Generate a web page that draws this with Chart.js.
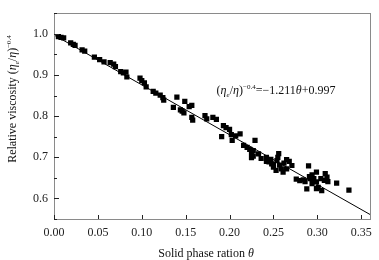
<!DOCTYPE html>
<html>
<head>
<meta charset="utf-8">
<script src="https://cdn.jsdelivr.net/npm/chart.js@4.4.1/dist/chart.umd.min.js"></script>
<style>
  html, body { margin: 0; padding: 0; background: #fff; }
  #chart { display: block; }
</style>
</head>
<body>
<canvas id="chart" width="379" height="260"></canvas>
<script>
// datos (theta, viscosidad relativa)
const thetaVals = [
  0.005, 0.008, 0.011, 0.019, 0.022, 0.024, 0.032, 0.035, 0.046, 0.052,
  0.057, 0.064, 0.068, 0.070, 0.076, 0.079, 0.082, 0.083, 0.098, 0.100,
  0.103, 0.105, 0.113, 0.116, 0.121, 0.124, 0.125, 0.136, 0.140, 0.144,
  0.146, 0.148, 0.149, 0.154, 0.157, 0.158, 0.157, 0.172, 0.174, 0.181,
  0.185, 0.193, 0.196, 0.200, 0.191, 0.202, 0.207, 0.212, 0.203, 0.216,
  0.220, 0.223, 0.225, 0.227, 0.225, 0.229, 0.233, 0.236, 0.242, 0.245,
  0.248, 0.250, 0.253, 0.254, 0.255, 0.256, 0.257, 0.259, 0.261, 0.265,
  0.265, 0.271, 0.276, 0.280, 0.284, 0.288, 0.290, 0.291, 0.294, 0.296,
  0.299, 0.294, 0.299, 0.301, 0.305, 0.304, 0.309, 0.308, 0.312, 0.322,
  0.336, 0.311, 0.299, 0.292, 0.286, 0.250, 0.247, 0.242, 0.262, 0.268,
  0.227
];
const viscVals = [
  0.993, 0.991, 0.990, 0.978, 0.974, 0.972, 0.961, 0.958, 0.943, 0.937,
  0.932, 0.930, 0.926, 0.920, 0.908, 0.905, 0.907, 0.895, 0.892, 0.886,
  0.881, 0.871, 0.860, 0.856, 0.851, 0.845, 0.839, 0.821, 0.846, 0.815,
  0.812, 0.808, 0.836, 0.823, 0.826, 0.790, 0.797, 0.801, 0.793, 0.797,
  0.792, 0.777, 0.772, 0.768, 0.750, 0.755, 0.752, 0.757, 0.741, 0.729,
  0.724, 0.719, 0.712, 0.703, 0.699, 0.741, 0.708, 0.697, 0.700, 0.689,
  0.684, 0.676, 0.668, 0.692, 0.700, 0.709, 0.681, 0.672, 0.664, 0.694,
  0.672, 0.680, 0.647, 0.643, 0.645, 0.623, 0.679, 0.653, 0.657, 0.648,
  0.664, 0.636, 0.640, 0.627, 0.619, 0.648, 0.660, 0.644, 0.641, 0.637,
  0.620, 0.652, 0.624, 0.648, 0.641, 0.682, 0.695, 0.690, 0.686, 0.690,
  0.716
];

// recta de ajuste (extremos)
const fitX = [0, 0.36];
const fitY = [0.997, 0.561];

const xTicks = [0, 0.05, 0.10, 0.15, 0.20, 0.25, 0.30, 0.35];
const yTicks = [0.6, 0.7, 0.8, 0.9, 1.0];
const yMinorTicks = [0.55, 0.65, 0.75, 0.85, 0.95, 1.05];

const SERIF = '"Liberation Serif", "Times New Roman", serif';

// dibuja texto con cursiva / subindice / superindice
function drawRich(ctx, parts, x, y, size) {
  const fontFor = p => {
    const s = (p.sub || p.sup) ? Math.round(size * 0.62) : size;
    return (p.it ? 'italic ' : '') + s + 'px ' + SERIF;
  };
  let total = 0;
  parts.forEach(p => { ctx.font = fontFor(p); total += ctx.measureText(p.t).width; });
  let cx = x - total / 2;
  ctx.textAlign = 'left';
  ctx.textBaseline = 'alphabetic';
  parts.forEach(p => {
    ctx.font = fontFor(p);
    let dy = 0;
    if (p.sub) dy = size * 0.25;
    if (p.sup) dy = -size * 0.42;
    ctx.fillText(p.t, cx, y + dy);
    cx += ctx.measureText(p.t).width;
  });
}

const etaPart = [
  { t: '(' }, { t: 'η', it: true }, { t: 'e', it: true, sub: true },
  { t: '/' }, { t: 'η', it: true }, { t: ')' }, { t: '−0.4', sup: true }
];

const decorPlugin = {
  id: 'decor',
  afterDraw(chart) {
    const ctx = chart.ctx;
    const a = chart.chartArea;
    const xs = chart.scales.x, ys = chart.scales.y;
    ctx.save();
    // marco
    ctx.strokeStyle = '#8a8a8a';
    ctx.lineWidth = 1;
    ctx.strokeRect(Math.round(a.left) + 0.5, Math.round(a.top) + 0.5,
      Math.round(a.right - a.left), Math.round(a.bottom - a.top));
    // marcas hacia dentro
    ctx.strokeStyle = '#222';
    ctx.beginPath();
    xTicks.forEach(v => {
      const px = Math.round(xs.getPixelForValue(v)) + 0.5;
      ctx.moveTo(px, a.bottom);
      ctx.lineTo(px, a.bottom - 4);
    });
    yTicks.forEach(v => {
      const py = Math.round(ys.getPixelForValue(v)) + 0.5;
      ctx.moveTo(a.left, py);
      ctx.lineTo(a.left + 5, py);
    });
    yMinorTicks.forEach(v => {
      const py = Math.round(ys.getPixelForValue(v)) + 0.5;
      ctx.moveTo(a.left, py);
      ctx.lineTo(a.left + 3, py);
    });
    ctx.stroke();

    ctx.fillStyle = '#111';
    // titulo eje x
    drawRich(ctx, [{ t: 'Solid phase ration ' }, { t: 'θ', it: true }], 206, 257, 12);
    // titulo eje y
    ctx.save();
    ctx.translate(16, 99);
    ctx.rotate(-Math.PI / 2);
    drawRich(ctx, [{ t: 'Relative viscosity ' }].concat(etaPart), 0, 0, 12);
    ctx.restore();
    // ecuacion
    drawRich(ctx, etaPart.concat([{ t: '=−1.211' }, { t: 'θ', it: true }, { t: '+0.997' }]), 276, 94, 12);
    ctx.restore();
  }
};

const puntos = thetaVals.map((t, i) => ({ x: t, y: viscVals[i] }));
const recta = fitX.map((t, i) => ({ x: t, y: fitY[i] }));

new Chart(document.getElementById('chart'), {
  type: 'scatter',
  data: {
    datasets: [
      {
        label: 'datos',
        data: puntos,
        pointStyle: 'rect',
        pointRadius: 3.7,
        backgroundColor: '#000',
        borderColor: '#000',
        borderWidth: 0
      },
      {
        type: 'line',
        label: 'ajuste',
        data: recta,
        borderColor: '#000',
        borderWidth: 1,
        pointRadius: 0,
        fill: false
      }
    ]
  },
  options: {
    responsive: false,
    animation: false,
    events: [],
    layout: { padding: { left: 0, right: 9, top: 10, bottom: 0 } },
    plugins: { legend: { display: false }, tooltip: { enabled: false } },
    scales: {
      x: {
        type: 'linear',
        min: 0,
        max: 0.36,
        grid: { display: false, drawTicks: false },
        border: { display: false },
        afterBuildTicks: s => { s.ticks = xTicks.map(v => ({ value: v })); },
        afterFit: s => { s.height = 41; },
        ticks: {
          autoSkip: false,
          maxRotation: 0,
          padding: 7,
          color: '#222',
          font: { family: SERIF, size: 12 },
          callback: v => v.toFixed(2)
        }
      },
      y: {
        type: 'linear',
        min: 0.55,
        max: 1.05,
        grid: { display: false, drawTicks: false },
        border: { display: false },
        afterBuildTicks: s => { s.ticks = yTicks.map(v => ({ value: v })); },
        afterFit: s => { s.width = 54; },
        ticks: {
          padding: 6,
          color: '#222',
          font: { family: SERIF, size: 12 },
          callback: v => v.toFixed(1)
        }
      }
    }
  },
  plugins: [decorPlugin]
});
</script>
</body>
</html>
